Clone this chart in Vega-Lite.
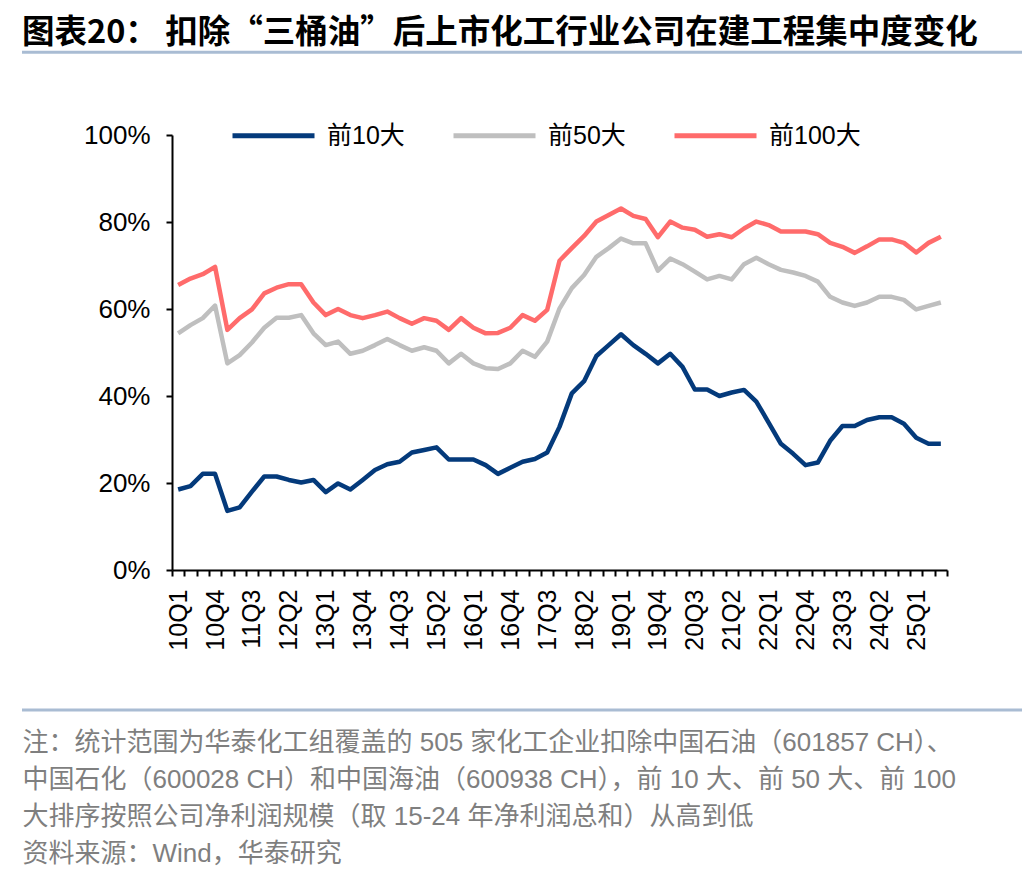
{
  "$schema": "https://vega.github.io/schema/vega-lite/v6.json",
  "width": 1000,
  "height": 435,
  "autosize": {"type": "none"},
  "padding": {"left": 22, "top": 135, "right": 14, "bottom": 310},
  "title": {
    "text": "图表20：  扣除“三桶油”后上市化工行业公司在建工程集中度变化",
    "anchor": "start",
    "frame": "group",
    "orient": "top",
    "offset": 1,
    "font": "Noto Sans CJK SC",
    "fontSize": 32.5,
    "fontWeight": "bold",
    "color": "#000000"
  },
  "config": {
    "view": {"stroke": null},
    "axis": {
      "domainColor": "#000000",
      "domainWidth": 2,
      "tickColor": "#000000",
      "tickWidth": 2,
      "tickSize": 6,
      "grid": false,
      "labelColor": "#000000",
      "labelFont": "Liberation Sans",
      "labelFontSize": 25
    },
    "legend": {
      "labelFont": "Liberation Sans, Noto Sans CJK SC",
      "labelFontSize": 25,
      "labelColor": "#000000"
    }
  },
  "datasets": {
    "share": [
      {"q": "10Q1", "前10大": 0.185, "前50大": 0.544, "前100大": 0.655},
      {"q": "10Q2", "前10大": 0.193, "前50大": 0.563, "前100大": 0.670},
      {"q": "10Q3", "前10大": 0.221, "前50大": 0.579, "前100大": 0.680},
      {"q": "10Q4", "前10大": 0.221, "前50大": 0.608, "前100大": 0.697},
      {"q": "11Q1", "前10大": 0.136, "前50大": 0.475, "前100大": 0.552},
      {"q": "11Q2", "前10大": 0.144, "前50大": 0.494, "前100大": 0.579},
      {"q": "11Q3", "前10大": 0.180, "前50大": 0.523, "前100大": 0.599},
      {"q": "11Q4", "前10大": 0.215, "前50大": 0.557, "前100大": 0.636},
      {"q": "12Q1", "前10大": 0.215, "前50大": 0.580, "前100大": 0.649},
      {"q": "12Q2", "前10大": 0.207, "前50大": 0.580, "前100大": 0.657},
      {"q": "12Q3", "前10大": 0.201, "前50大": 0.586, "前100大": 0.657},
      {"q": "12Q4", "前10大": 0.207, "前50大": 0.544, "前100大": 0.615},
      {"q": "13Q1", "前10大": 0.179, "前50大": 0.517, "前100大": 0.586},
      {"q": "13Q2", "前10大": 0.199, "前50大": 0.525, "前100大": 0.600},
      {"q": "13Q3", "前10大": 0.185, "前50大": 0.497, "前100大": 0.586},
      {"q": "13Q4", "前10大": 0.207, "前50大": 0.504, "前100大": 0.579},
      {"q": "14Q1", "前10大": 0.230, "前50大": 0.517, "前100大": 0.586},
      {"q": "14Q2", "前10大": 0.243, "前50大": 0.531, "前100大": 0.594},
      {"q": "14Q3", "前10大": 0.249, "前50大": 0.517, "前100大": 0.579},
      {"q": "14Q4", "前10大": 0.270, "前50大": 0.504, "前100大": 0.566},
      {"q": "15Q1", "前10大": 0.276, "前50大": 0.512, "前100大": 0.579},
      {"q": "15Q2", "前10大": 0.282, "前50大": 0.504, "前100大": 0.573},
      {"q": "15Q3", "前10大": 0.254, "前50大": 0.475, "前100大": 0.552},
      {"q": "15Q4", "前10大": 0.254, "前50大": 0.497, "前100大": 0.579},
      {"q": "16Q1", "前10大": 0.254, "前50大": 0.475, "前100大": 0.557},
      {"q": "16Q2", "前10大": 0.241, "前50大": 0.464, "前100大": 0.544},
      {"q": "16Q3", "前10大": 0.221, "前50大": 0.462, "前100大": 0.545},
      {"q": "16Q4", "前10大": 0.235, "前50大": 0.475, "前100大": 0.557},
      {"q": "17Q1", "前10大": 0.249, "前50大": 0.504, "前100大": 0.586},
      {"q": "17Q2", "前10大": 0.255, "前50大": 0.490, "前100大": 0.573},
      {"q": "17Q3", "前10大": 0.270, "前50大": 0.525, "前100大": 0.598},
      {"q": "17Q4", "前10大": 0.329, "前50大": 0.601, "前100大": 0.711},
      {"q": "18Q1", "前10大": 0.406, "前50大": 0.648, "前100大": 0.740},
      {"q": "18Q2", "前10大": 0.434, "前50大": 0.678, "前100大": 0.768},
      {"q": "18Q3", "前10大": 0.492, "前50大": 0.720, "前100大": 0.801},
      {"q": "18Q4", "前10大": 0.517, "前50大": 0.740, "前100大": 0.816},
      {"q": "19Q1", "前10大": 0.542, "前50大": 0.762, "前100大": 0.831},
      {"q": "19Q2", "前10大": 0.517, "前50大": 0.751, "前100大": 0.814},
      {"q": "19Q3", "前10大": 0.497, "前50大": 0.751, "前100大": 0.807},
      {"q": "19Q4", "前10大": 0.475, "前50大": 0.688, "前100大": 0.765},
      {"q": "20Q1", "前10大": 0.497, "前50大": 0.716, "前100大": 0.801},
      {"q": "20Q2", "前10大": 0.467, "前50大": 0.703, "前100大": 0.787},
      {"q": "20Q3", "前10大": 0.415, "前50大": 0.686, "前100大": 0.782},
      {"q": "20Q4", "前10大": 0.415, "前50大": 0.668, "前100大": 0.766},
      {"q": "21Q1", "前10大": 0.400, "前50大": 0.676, "前100大": 0.772},
      {"q": "21Q2", "前10大": 0.408, "前50大": 0.668, "前100大": 0.765},
      {"q": "21Q3", "前10大": 0.414, "前50大": 0.703, "前100大": 0.785},
      {"q": "21Q4", "前10大": 0.387, "前50大": 0.718, "前100大": 0.801},
      {"q": "22Q1", "前10大": 0.339, "前50大": 0.703, "前100大": 0.793},
      {"q": "22Q2", "前10大": 0.290, "前50大": 0.690, "前100大": 0.778},
      {"q": "22Q3", "前10大": 0.267, "前50大": 0.684, "前100大": 0.778},
      {"q": "22Q4", "前10大": 0.241, "前50大": 0.676, "前100大": 0.778},
      {"q": "23Q1", "前10大": 0.247, "前50大": 0.663, "前100大": 0.772},
      {"q": "23Q2", "前10大": 0.297, "前50大": 0.628, "前100大": 0.752},
      {"q": "23Q3", "前10大": 0.331, "前50大": 0.615, "前100大": 0.743},
      {"q": "23Q4", "前10大": 0.331, "前50大": 0.607, "前100大": 0.729},
      {"q": "24Q1", "前10大": 0.345, "前50大": 0.615, "前100大": 0.744},
      {"q": "24Q2", "前10大": 0.351, "前50大": 0.628, "前100大": 0.760},
      {"q": "24Q3", "前10大": 0.351, "前50大": 0.628, "前100大": 0.760},
      {"q": "24Q4", "前10大": 0.336, "前50大": 0.621, "前100大": 0.752},
      {"q": "25Q1", "前10大": 0.304, "前50大": 0.599, "前100大": 0.730},
      {"q": "25Q2", "前10大": 0.290, "前50大": 0.607, "前100大": 0.752},
      {"q": "25Q3", "前10大": 0.290, "前50大": 0.615, "前100大": 0.766}
    ]
  },
  "layer": [
    {
      "data": {"name": "share"},
      "transform": [
        {"fold": ["前10大", "前50大", "前100大"], "as": ["series", "value"]}
      ],
      "mark": {"type": "line", "strokeWidth": 4.5, "strokeJoin": "round"},
      "encoding": {
        "x": {
          "field": "q",
          "type": "ordinal",
          "sort": null,
          "bandPosition": 0.5,
          "scale": {"type": "band", "range": [150, 925], "paddingInner": 0, "paddingOuter": 0},
          "axis": {
            "tickBand": "extent",
            "labelAngle": -90,
            "labelPadding": 13,
            "labelOverlap": false,
            "labelExpr": "isString(datum.value) && length(datum.value) == 4 && (toNumber(slice(datum.value,0,2))*4 + toNumber(slice(datum.value,3,4))) % 3 == 2 ? datum.value : ''",
            "title": [
              "注：统计范围为华泰化工组覆盖的 505 家化工企业扣除中国石油（601857 CH）、",
              "中国石化（600028 CH）和中国海油（600938 CH），前 10 大、前 50 大、前 100",
              "大排序按照公司净利润规模（取 15-24 年净利润总和）从高到低",
              "资料来源：Wind，华泰研究"
            ],
            "titleFont": "Liberation Sans, Noto Sans CJK SC",
            "titleFontSize": 26,
            "titleFontWeight": "normal",
            "titleColor": "#7F7F7F",
            "titleAnchor": "start",
            "titleAlign": "left",
            "titleBaseline": "top",
            "titleAngle": 0,
            "titleX": 0,
            "titleY": 159,
            "titleLineHeight": 37
          }
        },
        "y": {
          "field": "value",
          "type": "quantitative",
          "scale": {"domain": [0, 1], "nice": false},
          "axis": {
            "values": [0, 0.2, 0.4, 0.6, 0.8, 1],
            "format": ".0%",
            "offset": -150,
            "labelFontSize": 26,
            "labelPadding": 16,
            "title": null
          }
        },
        "color": {
          "field": "series",
          "type": "nominal",
          "scale": {
            "domain": ["前10大", "前50大", "前100大"],
            "range": ["#043A7B", "#BFBFBF", "#FF6B6B"]
          },
          "legend": {
            "title": null,
            "orient": "none",
            "direction": "horizontal",
            "legendX": 208,
            "legendY": -43,
            "symbolType": "stroke",
            "symbolSize": 6724,
            "symbolStrokeWidth": 5,
            "labelOffset": 10,
            "columnPadding": 38
          }
        }
      }
    },
    {
      "data": {"values": [{}]},
      "mark": {"type": "rule", "color": "#A9BCD3", "strokeWidth": 3},
      "encoding": {"y": {"datum": 1.19, "type": "quantitative"}}
    },
    {
      "data": {"values": [{}]},
      "mark": {"type": "rule", "color": "#A9BCD3", "strokeWidth": 3},
      "encoding": {"y": {"datum": -0.322, "type": "quantitative"}}
    }
  ]
}
